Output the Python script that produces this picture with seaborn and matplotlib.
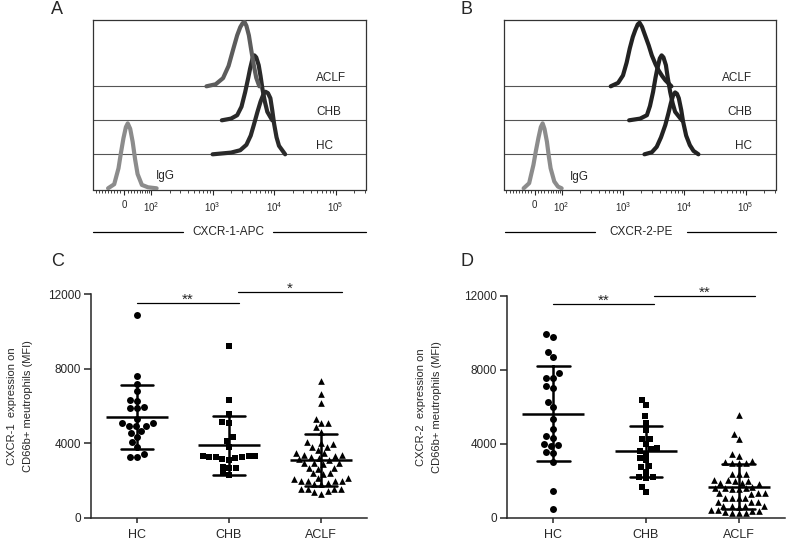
import numpy as np
import pandas as pd
import matplotlib
matplotlib.use("Agg")
import matplotlib.pyplot as plt
import seaborn as sns

groups = ["HC", "CHB", "ACLF"]
markers = ["o", "s", "^"]
marker_sizes = [5, 4.6, 4.8]

# C: CXCR-1 MFI on CD66b+ neutrophils
cxcr1_hc = [10900, 7600, 7200, 6800, 6300, 6250, 5930, 5880, 5870, 5300, 5070, 5080,
            4930, 4940, 4920, 4660, 4540, 4360, 4090, 3820, 3410, 3290, 3280]
cxcr1_chb = [9200, 6340, 5550, 5100, 5150, 4320, 4150, 3820, 3330, 3310, 3300, 3280,
             3250, 3200, 3250, 3150, 3100, 2750, 2700, 2660, 2400, 2300]
cxcr1_aclf = [7340, 6640, 6140, 5300, 5100, 5100, 4860, 4600, 4050, 4000, 3950, 3820,
              3780, 3640, 3470, 3460, 3380, 3350, 3300, 3250, 3200, 3150, 3100, 2950,
              2930, 2920, 2900, 2680, 2660, 2650, 2400, 2390, 2380, 2130, 2120, 2110,
              1990, 1980, 1970, 1960, 1850, 1820, 1800, 1560, 1550, 1540, 1530, 1420,
              1410, 1290]

# D: CXCR-2 MFI on CD66b+ neutrophils
cxcr2_hc = [9930, 9800, 8990, 8720, 7820, 7590, 7580, 7150, 7050, 6290, 6020, 5350,
            4810, 4310, 4430, 4000, 3890, 3950, 3550, 3540, 3010, 1480, 500]
cxcr2_chb = [6380, 6110, 5500, 5160, 4760, 4270, 4270, 3990, 3780, 3730, 3620, 3480,
             3260, 3130, 2800, 2740, 2500, 2230, 2200, 2150, 1700, 1420]
cxcr2_aclf = [5570, 4520, 4250, 3480, 3350, 3080, 3050, 3000, 2960, 2950, 2400, 2380,
              2360, 2080, 2050, 2020, 2000, 1900, 1880, 1860, 1700, 1620, 1610, 1600,
              1590, 1580, 1350, 1340, 1330, 1320, 1100, 1090, 1080, 1070, 880, 870,
              860, 660, 650, 640, 630, 620, 420, 410, 400, 390, 300, 280, 260, 250]

# histograms: x in log10 decades, h = relative height above each baseline
a_igg_x = [1.30, 1.40, 1.47, 1.51, 1.55, 1.59, 1.62, 1.66, 1.70, 1.74, 1.78, 1.85, 1.95, 2.09]
a_igg_h = [0, 0.12, 0.59, 1.05, 1.47, 1.80, 1.91, 1.75, 1.37, 0.85, 0.42, 0.10, 0.03, 0]
a_hc_x = [3.0, 3.3, 3.45, 3.55, 3.62, 3.67, 3.73, 3.78, 3.83, 3.86, 3.90, 3.94, 3.97, 4.00, 4.04, 4.08, 4.18]
a_hc_h = [0, 0.05, 0.12, 0.28, 0.55, 0.86, 1.25, 1.55, 1.78, 1.84, 1.80, 1.65, 1.30, 0.90, 0.50, 0.25, 0]
a_chb_x = [3.15, 3.30, 3.40, 3.47, 3.53, 3.58, 3.61, 3.65, 3.68, 3.71, 3.75, 3.78, 3.81, 3.85, 3.89, 3.97]
a_chb_h = [0, 0.05, 0.15, 0.40, 0.83, 1.25, 1.52, 1.82, 1.91, 1.85, 1.62, 1.30, 0.93, 0.55, 0.25, 0]
a_aclf_x = [2.90, 3.05, 3.17, 3.26, 3.34, 3.40, 3.45, 3.49, 3.52, 3.55, 3.59, 3.63, 3.67, 3.71, 3.76]
a_aclf_h = [0, 0.06, 0.24, 0.60, 1.12, 1.50, 1.74, 1.86, 1.89, 1.78, 1.50, 1.05, 0.62, 0.25, 0]

b_igg_x = [1.38, 1.47, 1.54, 1.58, 1.62, 1.66, 1.69, 1.72, 1.76, 1.79, 1.82, 1.88, 1.94, 2.00]
b_igg_h = [0, 0.15, 0.69, 1.10, 1.47, 1.80, 1.91, 1.75, 1.37, 0.95, 0.59, 0.20, 0.05, 0]
b_hc_x = [3.35, 3.47, 3.55, 3.62, 3.69, 3.74, 3.78, 3.82, 3.85, 3.88, 3.91, 3.95, 3.98, 4.03, 4.09, 4.15, 4.23]
b_hc_h = [0, 0.06, 0.22, 0.50, 0.86, 1.20, 1.50, 1.75, 1.82, 1.78, 1.65, 1.30, 0.96, 0.55, 0.27, 0.10, 0]
b_chb_x = [3.10, 3.28, 3.39, 3.44, 3.49, 3.53, 3.56, 3.60, 3.63, 3.66, 3.70, 3.73, 3.77, 3.81, 3.85, 3.96]
b_chb_h = [0, 0.05, 0.15, 0.42, 0.83, 1.25, 1.52, 1.82, 1.91, 1.85, 1.62, 1.25, 0.83, 0.50, 0.25, 0]
b_aclf_x = [2.80, 2.92, 3.00, 3.06, 3.11, 3.16, 3.20, 3.24, 3.27, 3.31, 3.36, 3.42, 3.47, 3.53, 3.58, 3.64, 3.69, 3.79]
b_aclf_h = [0, 0.10, 0.32, 0.70, 1.11, 1.45, 1.65, 1.82, 1.87, 1.75, 1.50, 1.20, 0.91, 0.65, 0.47, 0.30, 0.18, 0]

hist_ticks = [1.56, 2, 3, 4, 5]
hist_ticklabels = ["0", "$10^{2}$", "$10^{3}$", "$10^{4}$", "$10^{5}$"]

sns.set_style("ticks")
plt.rcParams["font.family"] = ["Liberation Sans", "DejaVu Sans"]
plt.rcParams["mathtext.default"] = "regular"

W, H = 787, 542
fig = plt.figure(figsize=(W / 100, H / 100), dpi=100)


def px_axes(l, t, r, b):
    return fig.add_axes([l / W, 1 - b / H, (r - l) / W, (b - t) / H])


def draw_hist(ax, curves, colors, names_x, names_ha, igg_pos, channel, gap):
    for off in [1, 2, 3]:
        ax.axhline(off, color="#555555", lw=0.8, zorder=1)
    for (x, h), off, c in zip(curves, [0, 1, 2, 3], colors):
        sns.lineplot(x=x, y=np.array(h) + off, sort=False, estimator=None, color=c,
                     lw=3.0, ax=ax, zorder=3)
    for name, off in zip(["HC", "CHB", "ACLF"], [1, 2, 3]):
        ax.text(names_x, off + 0.23, name, transform=ax.get_yaxis_transform(),
                ha=names_ha, va="center", fontsize=8.5)
    ax.text(igg_pos[0], igg_pos[1], "IgG", transform=ax.get_yaxis_transform(),
            ha="left", va="center", fontsize=8.5)
    ax.set_xlim(1.06, 5.49)
    ax.set_ylim(-0.035, 4.95)
    ax.set_yticks([])
    ax.set_xticks(hist_ticks)
    ax.set_xticklabels(hist_ticklabels, fontsize=7)
    minor = [1.1, 1.15, 1.2, 1.25, 1.3, 1.35, 1.4, 1.45, 1.5, 1.62, 1.67, 1.72, 1.77,
             1.82, 1.86, 1.9, 1.94, 1.97]
    for n in range(2, 6):
        for k in range(2, 10):
            v = n + np.log10(k)
            if v < 5.49:
                minor.append(v)
    ax.set_xticks(minor, minor=True)
    ax.tick_params(axis="x", which="major", length=3.5, width=0.8, pad=4, direction="out")
    ax.tick_params(axis="x", which="minor", length=2, width=0.6, direction="out")
    ax.set_xlabel("")
    ax.set_ylabel("")
    for s in ax.spines.values():
        s.set_color("#333333")
        s.set_linewidth(0.9)
    ax.plot([gap[0], gap[1]], [-0.251, -0.251], transform=ax.transAxes, clip_on=False,
            color="black", lw=0.9)
    ax.plot([gap[2], 1.0], [-0.251, -0.251], transform=ax.transAxes, clip_on=False,
            color="black", lw=0.9)
    ax.text((gap[1] + gap[2]) / 2, -0.251, channel, transform=ax.transAxes,
            ha="center", va="center", fontsize=8.5)


def draw_scatter(ax, values, ylab, label_x, sig):
    df = pd.DataFrame({
        "group": np.repeat(groups, [len(v) for v in values]),
        "mfi": np.concatenate(values),
    })
    for g, m, s in zip(groups, markers, marker_sizes):
        sns.swarmplot(data=df[df["group"] == g], x="group", y="mfi", order=groups,
                      marker=m, color="black", size=s, ax=ax, zorder=2)
    sns.pointplot(data=df, x="group", y="mfi", order=groups, errorbar="sd",
                  capsize=0.35, color="black", marker="_", markersize=45,
                  markeredgewidth=1.8, linestyle="none",
                  err_kws={"linewidth": 1.8}, ax=ax)
    ax.set_xlim(-0.5, 2.5)
    ax.set_ylim(0, 12000)
    ax.set_yticks([0, 4000, 8000, 12000])
    sns.despine(ax=ax)
    for s in ["left", "bottom"]:
        ax.spines[s].set_linewidth(1.1)
    ax.tick_params(axis="y", length=5, width=1.1, labelsize=8.5, pad=2)
    ax.tick_params(axis="x", length=3.5, width=1.1, labelsize=9, pad=4.5)
    ax.set_xlabel("")
    ax.set_ylabel(ylab, fontsize=8, linespacing=1.75)
    ax.yaxis.set_label_coords(label_x, 0.5)
    for x0, x1, y, stars in sig:
        ax.plot([x0, x1], [y, y], color="black", lw=0.9, clip_on=False)
        ax.text((x0 + x1) / 2, y + 180, stars, ha="center", va="center", fontsize=11)


ax_a = px_axes(93.3, 20, 365.7, 189.5)
draw_hist(ax_a,
          [(a_igg_x, a_igg_h), (a_hc_x, a_hc_h), (a_chb_x, a_chb_h), (a_aclf_x, a_aclf_h)],
          ["#8c8c8c", "#2a2a2a", "#2a2a2a", "#5c5c5c"],
          0.818, "left", (0.229, 0.36), "CXCR-1-APC", (0.0, 0.33, 0.66))

ax_b = px_axes(504, 20, 775.7, 189.5)
draw_hist(ax_b,
          [(b_igg_x, b_igg_h), (b_hc_x, b_hc_h), (b_chb_x, b_chb_h), (b_aclf_x, b_aclf_h)],
          ["#8c8c8c", "#222222", "#222222", "#222222"],
          0.913, "right", (0.243, 0.34), "CXCR-2-PE", (0.004, 0.335, 0.672))

ax_c = px_axes(91, 294, 367, 518)
draw_scatter(ax_c, [cxcr1_hc, cxcr1_chb, cxcr1_aclf],
             "CXCR-1  expression on\nCD66b+ meutrophils (MFI)", -0.21,
             [(0, 1.11, 11500, "**"), (1.10, 2.23, 12090, "*")])

ax_d = px_axes(507, 296, 785, 518)
draw_scatter(ax_d, [cxcr2_hc, cxcr2_chb, cxcr2_aclf],
             "CXCR-2  expression on\nCD66b+ meutrophils (MFI)", -0.235,
             [(0, 1.09, 11570, "**"), (1.09, 2.18, 12000, "**")])

for letter, x, y in [("A", 57, 10), ("B", 467, 10), ("C", 58, 262), ("D", 467, 262)]:
    fig.text(x / W, 1 - y / H, letter, ha="center", va="center", fontsize=13)

fig.savefig("out.png", dpi=100)
